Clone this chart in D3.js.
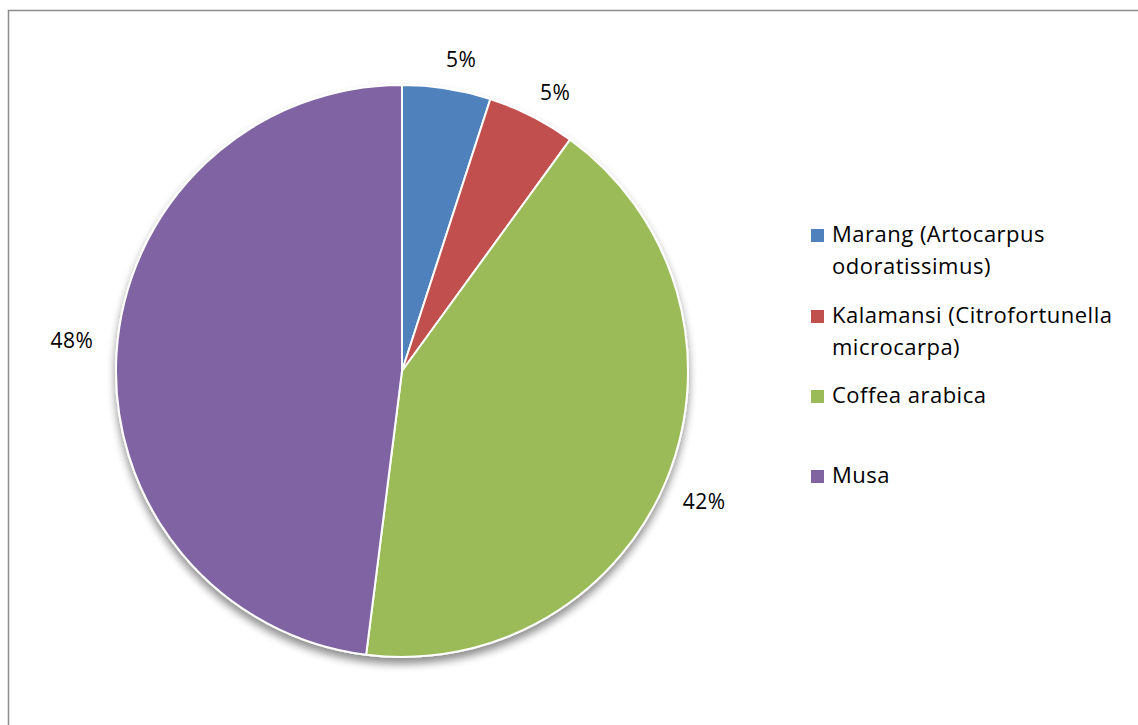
<!DOCTYPE html>
<html>
<head>
<meta charset="utf-8">
<script src="https://cdn.jsdelivr.net/npm/d3@7"></script>
<style>
  html, body { margin: 0; padding: 0; background: #fff; }
  svg { display: block; }
  text { font-family: "Open Sans", Lato, "Liberation Sans", sans-serif; fill: #000; }
</style>
</head>
<body>
<svg id="chart" width="1138" height="725"></svg>
<script>
// Share of each species (percent)
const categories = ["Marang (Artocarpus odoratissimus)", "Kalamansi (Citrofortunella microcarpa)", "Coffea arabica", "Musa"];
const legendLines = [["Marang (Artocarpus", "odoratissimus)"], ["Kalamansi (Citrofortunella", "microcarpa)"], ["Coffea arabica"], ["Musa"]];
const values = [5, 5, 42, 48];
const colors = ["#4F81BD", "#C0504D", "#9BBB59", "#8064A2"];

const svg = d3.select("#chart");
const W = 1138, H = 725;

// outer frame
svg.append("rect")
  .attr("x", 8.5).attr("y", 10.5)
  .attr("width", W + 20).attr("height", H + 20)
  .attr("fill", "#fff").attr("stroke", "#8c8c8c").attr("stroke-width", 1.5);

// soft drop shadow under the pie
const defs = svg.append("defs");
const f = defs.append("filter").attr("id", "shadow")
  .attr("x", "-10%").attr("y", "-10%").attr("width", "120%").attr("height", "125%");
f.append("feGaussianBlur").attr("in", "SourceAlpha").attr("stdDeviation", 4).attr("result", "b");
f.append("feOffset").attr("in", "b").attr("dx", 0).attr("dy", 6).attr("result", "o");
f.append("feComponentTransfer").attr("in", "o").attr("result", "s")
  .append("feFuncA").attr("type", "linear").attr("slope", 0.45);
const m = f.append("feMerge");
m.append("feMergeNode").attr("in", "s");
m.append("feMergeNode").attr("in", "SourceGraphic");

const cx = 402, cy = 371, r = 286;
const color = d3.scaleOrdinal().domain(categories).range(colors);

const pie = d3.pie().sort(null).value(d => d.value);
const data = categories.map((c, i) => ({ name: c, value: values[i] }));
const arcs = pie(data);
const arc = d3.arc().innerRadius(0).outerRadius(r);

const g = svg.append("g").attr("transform", `translate(${cx},${cy})`);
g.append("g").attr("filter", "url(#shadow)")
  .selectAll("path").data(arcs).join("path")
  .attr("d", arc)
  .attr("fill", d => color(d.data.name))
  .attr("stroke", "#fff").attr("stroke-width", 2).attr("stroke-linejoin", "round");

// percentage labels placed so their glyph box sits just outside each slice
const total = d3.sum(values);
const fmt = d3.format(".0%");
const gap = 310, glyphH = 15;
g.selectAll("text.pct").data(arcs).join("text")
  .attr("class", "pct")
  .attr("text-anchor", "middle")
  .attr("dominant-baseline", "central")
  .attr("font-size", 21)
  .attr("letter-spacing", 0.5)
  .text(d => fmt(d.data.value / total))
  .each(function(d) {
    const bb = this.getBBox();
    const a = (d.startAngle + d.endAngle) / 2 + 0.03;
    const s = Math.abs(Math.sin(a)), c = Math.abs(Math.cos(a));
    const ext = Math.min(c > 1e-6 ? (glyphH / 2) / c : Infinity,
                         s > 1e-6 ? (bb.width / 2) / s : Infinity);
    const dist = gap + ext;
    d3.select(this).attr("transform",
      `translate(${dist * Math.sin(a)},${-dist * Math.cos(a)})`);
  });

// legend
const legendY = [242, 323, 403, 483];
const lg = svg.append("g");
categories.forEach((c, i) => {
  const y = legendY[i];
  lg.append("rect")
    .attr("x", 811).attr("y", y - 13)
    .attr("width", 13).attr("height", 13)
    .attr("fill", color(c));
  legendLines[i].forEach((line, j) => {
    lg.append("text")
      .attr("x", 832).attr("y", y + j * 32)
      .attr("font-size", 22)
      .attr("letter-spacing", 0.5)
      .text(line);
  });
});
</script>
</body>
</html>
